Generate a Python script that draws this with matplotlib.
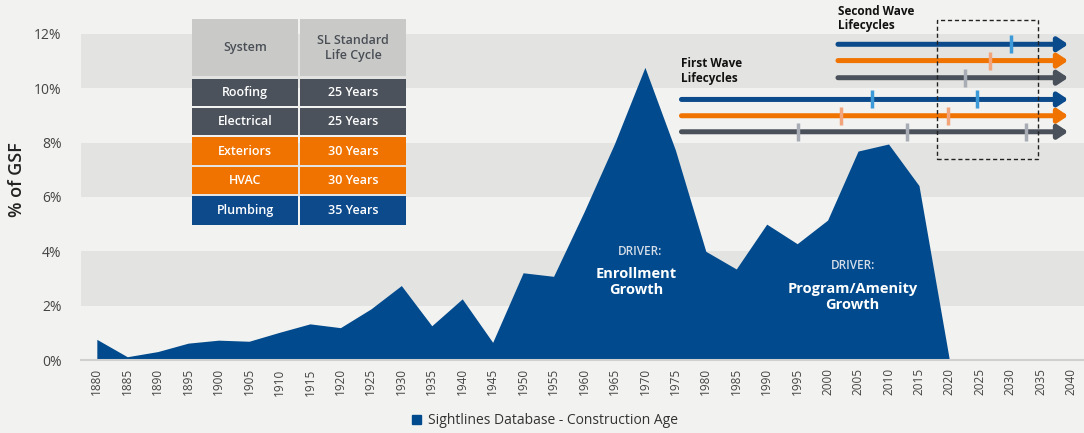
import matplotlib
matplotlib.use('Agg')
import matplotlib.pyplot as plt
from matplotlib.patches import Rectangle, Patch

plt.rcParams['font.family'] = ['Open Sans', 'DejaVu Sans']

# construction age data, % of GSF by 5-year bucket
years = [1880, 1885, 1890, 1895, 1900, 1905, 1910, 1915, 1920, 1925, 1930, 1935, 1940, 1945,
         1950, 1955, 1960, 1965, 1970, 1975, 1980, 1985, 1990, 1995, 2000, 2005, 2010, 2015, 2020]
pct_gsf = [0.76, 0.12, 0.31, 0.62, 0.73, 0.69, 1.02, 1.33, 1.19, 1.88, 2.74, 1.26, 2.25, 0.65,
           3.21, 3.08, 5.45, 7.96, 10.77, 7.73, 4.0, 3.35, 5.0, 4.28, 5.15, 7.69, 7.95, 6.42, 0.0]
tick_years = list(range(1880, 2041, 5))

# lifecycle arrows: (start year, end year, level %, colour key, replacement years)
first_wave = [
    (1976, 2039.5, 9.59, 'blue', [2007.3, 2024.5]),
    (1976, 2039.5, 8.99, 'orange', [2002.2, 2019.8]),
    (1976, 2039.5, 8.40, 'gray', [1995.2, 2013.0, 2032.6]),
]
second_wave = [
    (2001.7, 2039.5, 11.62, 'blue', [2030.1]),
    (2001.7, 2039.5, 11.02, 'orange', [2026.7]),
    (2001.7, 2039.5, 10.39, 'gray', [2022.6]),
]

table_header = ['System', 'SL Standard\nLife Cycle']
table_systems = ['Roofing', 'Electrical', 'Exteriors', 'HVAC', 'Plumbing']
table_cycles = ['25 Years', '25 Years', '30 Years', '30 Years', '35 Years']
table_colours = ['gray', 'gray', 'orange', 'orange', 'blue']

BLUE = '#004a8d'
COLOURS = {'blue': '#0b4a8b', 'orange': '#f07300', 'gray': '#4a515a'}
TICK_COLOURS = {'blue': '#3d9ad8', 'orange': '#f2a47a', 'gray': '#a8adb5'}
BG = '#f2f2f0'
BAND = '#e3e3e1'
TXT = '#444444'

fig = plt.figure(figsize=(10.84, 4.33), dpi=100, facecolor=BG)
W, H = 1084, 433
ax = fig.add_axes([81 / W, (H - 360) / H, (W - 81) / W, 360 / H])
ax.set_facecolor(BG)
ax.set_xlim(1877.4, 2042.1)
ax.set_ylim(0, 13.25)

for lo in (2, 6, 10):
    ax.axhspan(lo, lo + 2, color=BAND, lw=0, zorder=0)

ax.fill_between(years, pct_gsf, 0, color=BLUE, lw=0, zorder=2)

for s in ['top', 'right', 'left']:
    ax.spines[s].set_visible(False)
ax.spines['bottom'].set_color('#d0d0d0')
ax.spines['bottom'].set_linewidth(1.5)

ax.set_yticks([0, 2, 4, 6, 8, 10, 12])
ax.set_yticklabels([f'{v}%' for v in [0, 2, 4, 6, 8, 10, 12]], fontsize=10, color=TXT)
ax.set_xticks(tick_years)
ax.set_xticklabels([str(y) for y in tick_years], rotation=90, fontsize=8.5, color=TXT)
ax.tick_params(axis='y', length=0, pad=14)
ax.tick_params(axis='x', length=0, pad=6)
ax.set_ylabel('% of GSF', fontsize=13, color='#222222', labelpad=6, fontweight='semibold')

# driver annotations
ax.text(1969.2, 4.0, 'DRIVER:', ha='center', va='center', fontsize=8.5, color='#d5dde8',
        fontweight='semibold', zorder=3)
ax.text(1968.6, 2.87, 'Enrollment\nGrowth', ha='center', va='center', fontsize=10.5,
        fontweight='bold', color='white', linespacing=1.2, zorder=3)
ax.text(2004.1, 3.46, 'DRIVER:', ha='center', va='center', fontsize=8.5, color='#d5dde8',
        fontweight='semibold', zorder=3)
ax.text(2004.1, 2.32, 'Program/Amenity\nGrowth', ha='center', va='center', fontsize=10.5,
        fontweight='bold', color='white', linespacing=1.2, zorder=3)

# lifecycle arrows
for start, end, lvl, key, marks in first_wave + second_wave:
    ax.annotate('', xy=(end, lvl), xytext=(start, lvl),
                arrowprops=dict(arrowstyle='-|>,head_length=0.6,head_width=0.4', lw=3.6,
                                color=COLOURS[key], shrinkA=0, shrinkB=0, mutation_scale=10),
                zorder=4)
    for m in marks:
        ax.plot([m, m], [lvl - 0.33, lvl + 0.33], color=TICK_COLOURS[key], lw=2.5,
                solid_capstyle='butt', zorder=5)

ax.text(1976, 11.15, 'First Wave\nLifecycles', ha='left', va='top', fontsize=8.5,
        fontweight='bold', color='#111111', linespacing=1.15)
ax.text(2001.7, 13.07, 'Second Wave\nLifecycles', ha='left', va='top', fontsize=8.5,
        fontweight='bold', color='#111111', linespacing=1.15)
ax.add_patch(Rectangle((2017.9, 7.40), 2034.6 - 2017.9, 12.51 - 7.40, fill=False,
                       ls=(0, (3, 2)), lw=1.0, ec='#222222', zorder=6))

# lifecycle table (figure pixel layout)
def fig_rect(x0, y0, x1, y1, colour):
    fig.add_artist(Rectangle((x0 / W, 1 - y1 / H), (x1 - x0) / W, (y1 - y0) / H,
                             transform=fig.transFigure, color=colour, lw=0, zorder=7))

def fig_text(x, y, s, colour, **kw):
    fig.text(x / W, 1 - y / H, s, ha='center', va='center', color=colour,
             fontsize=9, zorder=8, linespacing=1.3, fontweight='semibold', **kw)

col_x = [(192, 298), (300, 406)]
fig_rect(192, 19, 298, 76, '#c9c9c7')
fig_rect(300, 19, 406, 76, '#c9c9c7')
for (x0, x1), label in zip(col_x, table_header):
    fig_text((x0 + x1) / 2, 48, label, '#4a4f56')
row_y = [(79, 106), (108, 135), (137, 165), (167, 194), (196, 225)]
table_fill = {'gray': '#4b525b', 'orange': '#f07300', 'blue': '#0d4a8c'}
for (y0, y1), sysname, cyc, key in zip(row_y, table_systems, table_cycles, table_colours):
    for (x0, x1), label in zip(col_x, [sysname, cyc]):
        fig_rect(x0, y0, x1, y1, table_fill[key])
        fig_text((x0 + x1) / 2, (y0 + y1) / 2, label, 'white')

fig.legend(handles=[Patch(color=BLUE, label='Sightlines Database - Construction Age')],
           loc='center', bbox_to_anchor=(545 / W, 1 - 421 / H), frameon=False,
           fontsize=10, handlelength=0.6, handleheight=0.6, handletextpad=0.5,
           labelcolor='#333333')

fig.savefig('out.png', dpi=100, facecolor=BG)
